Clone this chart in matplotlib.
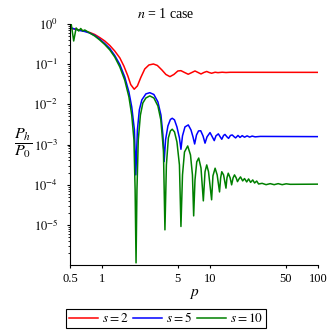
import matplotlib
matplotlib.use('Agg')
import matplotlib.pyplot as plt
from matplotlib.ticker import LogLocator, NullLocator, NullFormatter

# values (log-log)
red_x = [0.5, 0.552, 0.615, 0.685, 0.762, 0.848, 0.944, 1.05, 1.17, 1.30,
         1.45, 1.58, 1.72, 1.83, 1.97, 2.11, 2.27, 2.47, 2.70, 2.97,
         3.23, 3.56, 3.88, 4.23, 4.60, 5.01, 5.35, 5.77, 6.25, 6.77,
         7.22, 7.70, 8.21, 8.75, 9.28, 9.75, 10.3, 11.1, 11.8, 12.9,
         14.0, 15.3, 100]
red_y = [0.79, 0.75, 0.71, 0.67, 0.615, 0.548, 0.46, 0.378, 0.292, 0.213,
         0.143, 0.090, 0.051, 0.031, 0.0238, 0.0287, 0.0467, 0.076, 0.0955, 0.101,
         0.093, 0.0718, 0.0554, 0.0489, 0.0554, 0.0677, 0.0689, 0.0622, 0.0561, 0.0622,
         0.0677, 0.0622, 0.057, 0.0622, 0.0658, 0.0622, 0.0594, 0.0630, 0.0615, 0.0630,
         0.0620, 0.0628, 0.0625]

blue_x = [0.5, 0.552, 0.615, 0.685, 0.762, 0.848, 0.944, 1.05, 1.17, 1.30,
          1.45, 1.61, 1.76, 1.87, 1.98, 2.04, 2.11, 2.20, 2.32, 2.53,
          2.75, 3.00, 3.27, 3.49, 3.64, 3.74, 3.85, 4.05, 4.27, 4.44,
          4.66, 4.91, 5.18, 5.35, 5.53, 5.83, 6.26, 6.63, 6.92, 7.17,
          7.46, 7.79, 8.16, 8.57, 8.95, 9.34, 9.96, 10.4, 10.9, 11.3,
          11.9, 12.3, 12.8, 13.3, 13.7, 14.3, 14.8, 15.4, 16.0, 16.7,
          17.2, 18.1, 18.9, 19.8, 20.8, 22.0, 23.2, 24.5, 26.1, 29.1,
          100]
blue_y = [0.82, 0.75, 0.69, 0.65, 0.597, 0.518, 0.42, 0.327, 0.246, 0.165,
          0.098, 0.048, 0.0203, 0.0086, 0.0023, 1.75e-4, 0.0023, 0.0073, 0.0129, 0.0182,
          0.0195, 0.0176, 0.0115, 0.0054, 1.73e-3, 3.76e-4, 1.3e-3, 2.9e-3, 4.2e-3, 4.5e-3,
          4.1e-3, 2.74e-3, 1.46e-3, 7.6e-4, 1.64e-3, 2.74e-3, 3.07e-3, 2.3e-3, 1.55e-3, 1.03e-3,
          1.73e-3, 2.18e-3, 2.2e-3, 1.64e-3, 1.08e-3, 1.55e-3, 1.98e-3, 1.59e-3, 1.25e-3, 1.64e-3,
          1.84e-3, 1.59e-3, 1.35e-3, 1.68e-3, 1.78e-3, 1.55e-3, 1.42e-3, 1.68e-3, 1.73e-3, 1.55e-3,
          1.46e-3, 1.68e-3, 1.50e-3, 1.66e-3, 1.52e-3, 1.64e-3, 1.53e-3, 1.62e-3, 1.55e-3, 1.59e-3,
          1.57e-3]

green_x = [0.5, 0.513, 0.541, 0.570, 0.602, 0.629, 0.656, 0.685, 0.762, 0.848,
           0.944, 1.05, 1.17, 1.30, 1.45, 1.61, 1.76, 1.87, 1.96, 2.01,
           2.05, 2.09, 2.15, 2.25, 2.37, 2.53, 2.75, 3.0, 3.27, 3.48,
           3.68, 3.80, 3.92, 4.09, 4.27, 4.44, 4.66, 4.91, 5.18, 5.35,
           5.53, 5.77, 6.18, 6.56, 6.84, 7.02, 7.22, 7.50, 7.82, 8.21,
           8.63, 8.95, 9.28, 9.64, 10.3, 10.6, 11.1, 11.6, 12.2, 12.5,
           12.8, 13.3, 14.0, 14.3, 14.7, 15.3, 15.8, 16.3, 16.8, 17.4,
           17.9, 18.5, 19.1, 20.0, 20.8, 21.8, 22.7, 23.7, 24.8, 25.8,
           27.0, 28.1, 30.3, 33.0, 36.0, 39.2, 42.7, 46.5, 50.7, 55.2,
           100]
green_y = [0.89, 1.0, 0.378, 0.795, 0.67, 0.773, 0.67, 0.71, 0.597, 0.503,
           0.40, 0.309, 0.226, 0.151, 0.085, 0.040, 0.0153, 0.0054, 0.0013, 7.4e-5,
           1.13e-6, 7.4e-5, 0.0013, 0.0054, 0.0108, 0.0144, 0.0162, 0.0144, 0.0091, 0.0041,
           7.3e-4, 7.5e-6, 3.1e-4, 1.46e-3, 2.18e-3, 2.4e-3, 2.06e-3, 1.16e-3, 3.1e-4, 9.1e-6,
           1.75e-4, 6.5e-4, 9.2e-4, 5.5e-4, 1.75e-4, 1.67e-5, 1.3e-4, 3.7e-4, 4.6e-4, 2.6e-4,
           3.95e-5, 2.1e-4, 3.1e-4, 2.1e-4, 4.2e-5, 1.66e-4, 2.57e-4, 1.75e-4, 6.6e-5, 1.48e-4,
           2.1e-4, 1.75e-4, 8.2e-5, 1.48e-4, 1.93e-4, 1.48e-4, 9.9e-5, 1.48e-4, 1.75e-4, 1.48e-4,
           1.19e-4, 1.39e-4, 1.56e-4, 1.24e-4, 1.42e-4, 1.17e-4, 1.39e-4, 1.14e-4, 1.31e-4, 1.1e-4,
           1.23e-4, 1.04e-4, 1.08e-4, 1.0e-4, 1.06e-4, 1.0e-4, 1.06e-4, 1.0e-4, 1.05e-4, 1.02e-4,
           1.03e-4]

xticks = [0.5, 1, 5, 10, 50, 100]
xtick_labels = ['0.5', '1', '5', '10', '50', '100']
yticks = [1e-5, 1e-4, 1e-3, 1e-2, 1e-1, 1]
ytick_labels = [r'$10^{-5}$', r'$10^{-4}$', r'$10^{-3}$', r'$10^{-2}$', r'$10^{-1}$', r'$10^{0}$']

plt.rcParams['font.family'] = ['Liberation Serif', 'DejaVu Serif']
plt.rcParams['mathtext.fontset'] = 'stix'

fig = plt.figure(figsize=(3.32, 3.32), dpi=100)
ax = fig.add_axes([70/332, 1-265/332, 248/332, 241/332])

ax.plot(red_x, red_y, color='#ff0000', lw=1.1, label=r'$s = 2$')
ax.plot(blue_x, blue_y, color='#0000ff', lw=1.1, label=r'$s = 5$')
ax.plot(green_x, green_y, color='#008000', lw=1.1, label=r'$s = 10$')

ax.set_xscale('log')
ax.set_yscale('log')
ax.set_xlim(0.5, 100)
ax.set_ylim(1e-6, 1)
ax.spines[['top', 'right']].set_visible(False)

ax.set_xticks(xticks)
ax.set_xticklabels(xtick_labels)
ax.xaxis.set_minor_locator(NullLocator())
ax.set_yticks(yticks)
ax.set_yticklabels(ytick_labels)
ax.yaxis.set_minor_locator(LogLocator(base=10, subs=range(2, 10), numticks=20))
ax.yaxis.set_minor_formatter(NullFormatter())
ax.tick_params(which='major', length=2.5, width=0.8, labelsize=9)
ax.tick_params(axis='x', pad=3)
ax.tick_params(axis='y', pad=6)
ax.tick_params(which='minor', length=1.5, width=0.6)

fig.text(0.5, 1-14/332, r'$n$ = 1 case', ha='center', va='center', fontsize=10)
fig.text(194/332, 1-294/332, r'$p$', ha='center', va='center', fontsize=11)
fig.text(23/332, 1-143/332, r'$\dfrac{P_h}{P_0}$', ha='center', va='center', fontsize=11.5)

leg = fig.legend(loc='center', bbox_to_anchor=(166/332, 1-318.5/332), ncol=3,
                 fontsize=9.5, handlelength=2.2, handletextpad=0.3, columnspacing=0.4,
                 borderpad=0.2, borderaxespad=0, fancybox=False, framealpha=1,
                 edgecolor='black')
leg.get_frame().set_linewidth(0.8)

fig.savefig('out.png', dpi=100)
